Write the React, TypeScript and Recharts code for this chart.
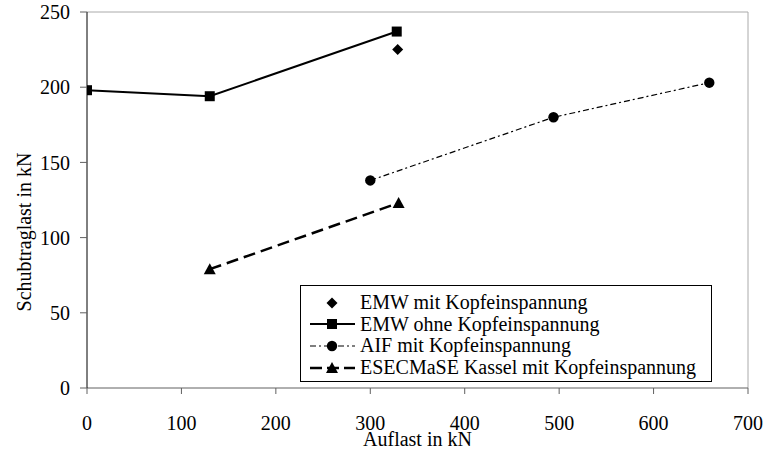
import React from 'react';
import { ComposedChart, Line, XAxis, YAxis, ReferenceLine, Label } from 'recharts';

const xTicks = [0, 100, 200, 300, 400, 500, 600, 700];
const yTicks = [0, 50, 100, 150, 200, 250];

const emwMit = [{ x: 329, y: 225 }];
const emwOhne = [
  { x: 0, y: 198 },
  { x: 130, y: 194 },
  { x: 328, y: 237 },
];
const aif = [
  { x: 300, y: 138 },
  { x: 494, y: 180 },
  { x: 659, y: 203 },
];
const esec = [
  { x: 130, y: 79 },
  { x: 330, y: 123 },
];

const seriesNames = [
  'EMW mit Kopfeinspannung',
  'EMW ohne Kopfeinspannung',
  'AIF mit Kopfeinspannung',
  'ESECMaSE Kassel mit Kopfeinspannung',
];

const FONT = "'Liberation Serif', 'Times New Roman', serif";
const FS = 20;

const Square = (p: any) => (p.cx == null ? null : <rect key={p.key} x={p.cx - 5} y={p.cy - 5} width={10} height={10} fill="#000" />);
const Circle = (p: any) => (p.cx == null ? null : <circle key={p.key} cx={p.cx} cy={p.cy} r={5.2} fill="#000" />);
const Diamond = (p: any) =>
  p.cx == null ? null : (
    <polygon key={p.key} points={`${p.cx},${p.cy - 5.5} ${p.cx + 5.5},${p.cy} ${p.cx},${p.cy + 5.5} ${p.cx - 5.5},${p.cy}`} fill="#000" />
  );
const Triangle = (p: any) =>
  p.cx == null ? null : (
    <polygon key={p.key} points={`${p.cx},${p.cy - 6} ${p.cx + 6},${p.cy + 5} ${p.cx - 6},${p.cy + 5}`} fill="#000" />
  );

const LegendBox = () => {
  const rows = [
    { line: null, marker: 'diamond' },
    { line: { dash: undefined, w: 2 }, marker: 'square' },
    { line: { dash: '6 3 2 3', w: 1.2 }, marker: 'circle' },
    { line: { dash: '12 5', w: 2.5 }, marker: 'triangle' },
  ];
  return (
    <div
      style={{
        position: 'absolute',
        left: 300,
        top: 285,
        border: '1.5px solid #000',
        background: '#fff',
        width: 412,
        height: 97,
        boxSizing: 'border-box',
        paddingTop: 6,
        fontFamily: FONT,
        fontSize: FS,
        color: '#000',
      }}
    >
      {rows.map((r, i) => (
        <div key={i} style={{ display: 'flex', alignItems: 'center', height: 21.6, lineHeight: '21.6px' }}>
          <svg width={59} height={20} style={{ flex: 'none' }}>
            {r.line && (
              <line x1={9} y1={10} x2={54} y2={10} stroke="#000" strokeWidth={r.line.w} strokeDasharray={r.line.dash} />
            )}
            {r.marker === 'diamond' && <Diamond cx={31} cy={10} />}
            {r.marker === 'square' && <Square cx={31} cy={10} />}
            {r.marker === 'circle' && <Circle cx={31} cy={10} />}
            {r.marker === 'triangle' && <Triangle cx={31} cy={10} />}
          </svg>
          <span style={{ whiteSpace: 'nowrap' }}>{seriesNames[i]}</span>
        </div>
      ))}
    </div>
  );
};

const tickStyle = { fontFamily: FONT, fontSize: FS, fill: '#000' };

const XLabel = (props: any) => {
  const vb = props.viewBox || {};
  return (
    <text x={vb.x + vb.width / 2} y={vb.y + vb.height - 4} textAnchor="middle" fontFamily={FONT} fontSize={FS} fill="#000">
      Auflast in kN
    </text>
  );
};

const YLabel = (props: any) => {
  const vb = props.viewBox || {};
  const x = (vb.x || 0) + 30;
  const y = vb.y + vb.height / 2 + 32;
  return (
    <text x={x} y={y} transform={`rotate(-90 ${x} ${y})`} textAnchor="middle" fontFamily={FONT} fontSize={FS} fill="#000">
      Schubtraglast in kN
    </text>
  );
};

export default function App() {
  return (
    <div style={{ position: 'absolute', left: 0, top: 0, width: 779, height: 450, background: '#fff' }}>
      <ComposedChart width={779} height={450} margin={{ top: 12, right: 31, bottom: 0, left: 1 }}>
        <XAxis
          type="number"
          dataKey="x"
          domain={[0, 700]}
          ticks={xTicks}
          allowDataOverflow
          stroke="#606060"
          tickLine={{ stroke: '#606060' }}
          tickSize={6}
          tickMargin={22}
          tick={tickStyle}
          height={62}
        >
          <Label content={XLabel} />
        </XAxis>
        <YAxis
          type="number"
          dataKey="y"
          domain={[0, 250]}
          ticks={yTicks}
          stroke="#000"
          tickLine={{ stroke: '#606060' }}
          tickSize={7}
          tickMargin={10}
          tick={tickStyle}
          width={86}
        >
          <Label content={YLabel} />
        </YAxis>
        <ReferenceLine y={250} stroke="#aaaaaa" strokeWidth={1} />
        <ReferenceLine x={700} stroke="#aaaaaa" strokeWidth={1} />
        <Line
          data={emwOhne}
          dataKey="y"
          name={seriesNames[1]}
          stroke="#000"
          strokeWidth={2}
          dot={Square}
          activeDot={false}
          isAnimationActive={false}
        />
        <Line
          data={aif}
          dataKey="y"
          name={seriesNames[2]}
          stroke="#000"
          strokeWidth={1.2}
          strokeDasharray="6 3 2 3"
          dot={Circle}
          activeDot={false}
          isAnimationActive={false}
        />
        <Line
          data={esec}
          dataKey="y"
          name={seriesNames[3]}
          stroke="#000"
          strokeWidth={2.5}
          strokeDasharray="12 6"
          dot={Triangle}
          activeDot={false}
          isAnimationActive={false}
        />
        <Line
          data={emwMit}
          dataKey="y"
          name={seriesNames[0]}
          stroke="none"
          dot={Diamond}
          activeDot={false}
          isAnimationActive={false}
        />
      </ComposedChart>
      <LegendBox />
    </div>
  );
}
